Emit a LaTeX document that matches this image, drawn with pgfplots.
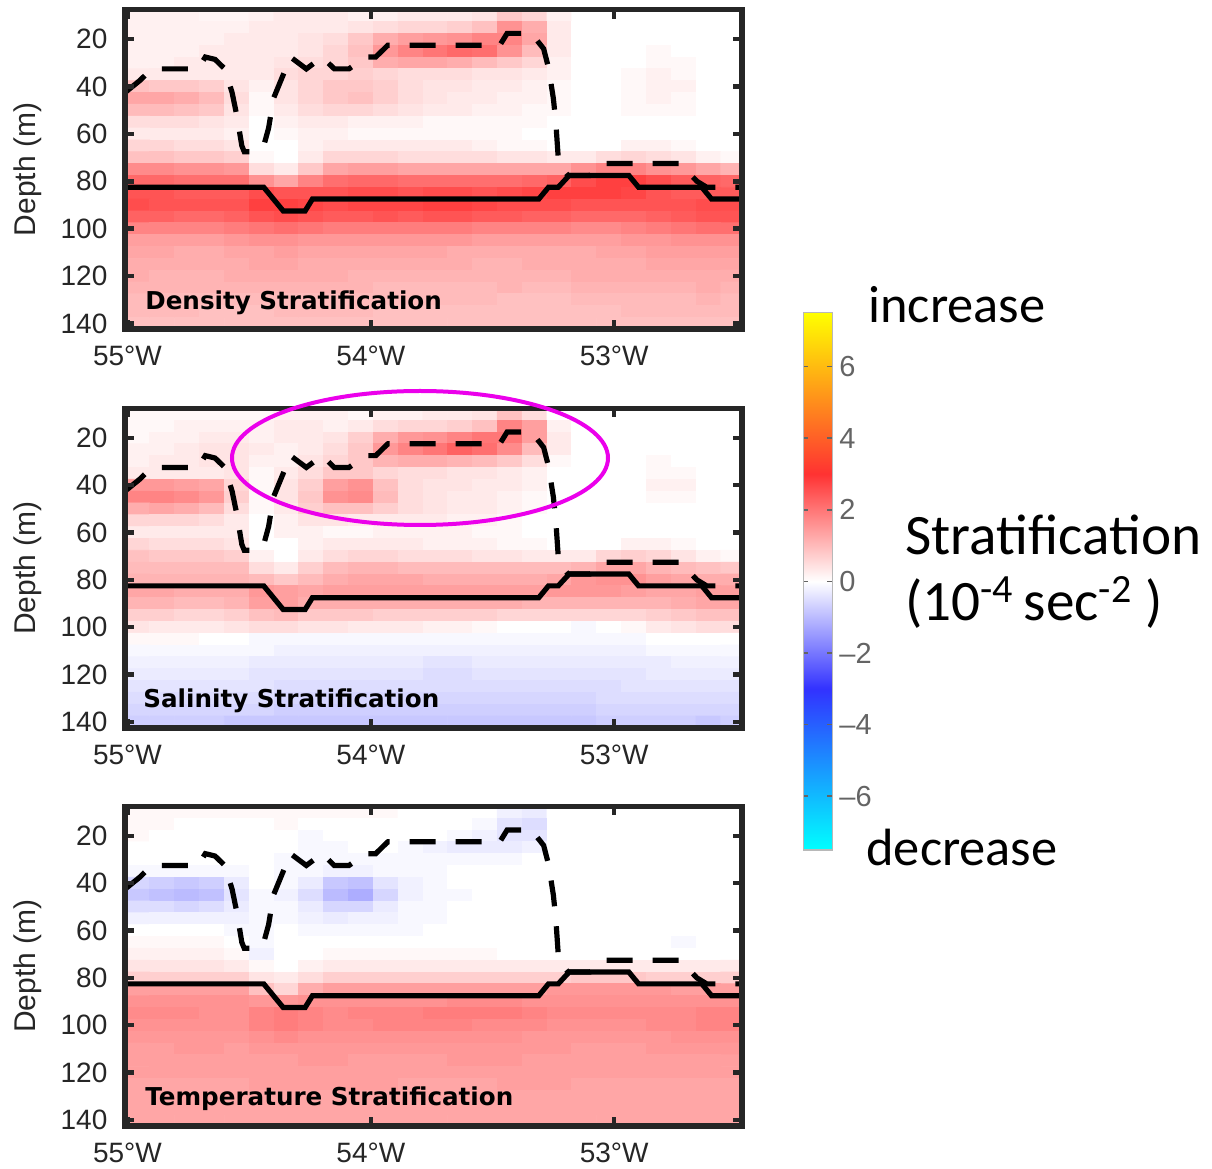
\documentclass[border=0pt]{standalone}
\usepackage{pgfplots}
\pgfplotsset{compat=1.18}
\usepackage{pgfplotstable}
\usepackage{fontspec}
\setmainfont{Liberation Sans}
\newfontfamily\calibri{Carlito}
\newfontfamily\dejavu{DejaVu Sans}
\definecolor{axgray}{RGB}{38,38,38}
\definecolor{cbgray}{RGB}{100,100,100}
\definecolor{ellip}{RGB}{235,0,235}
\pgfplotsset{
  colormap={strat}{rgb255(0cm)=(0,255,255); rgb255(4.5cm)=(50,50,255); rgb255(7.5cm)=(255,255,255); rgb255(10.5cm)=(255,50,50); rgb255(15cm)=(255,255,0)},
  panel/.style={
    scale only axis, width=308.5pt, height=159.8pt,
    xmin=-55.01, xmax=-52.475, ymin=7.5, ymax=142.5, y dir=reverse,
    axis on top,
    xtick={-55,-54,-53}, xticklabels={55°W,54°W,53°W},
    ytick={20,40,60,80,100,120,140},
    tick align=inside, major tick length=4.5pt,
    tick style={line width=2.2pt, axgray},
    axis line style={line width=2.8pt, axgray},
    tick label style={font=\fontsize{14}{16}\selectfont, text=axgray},
    yticklabel style={xshift=-5.3pt},
    xticklabel style={yshift=-4.8pt},
    /pgf/number format/assume math mode=true,
    ylabel={Depth (m)},
    every axis y label/.style={at={(axis description cs:-0.158,0.5)}, rotate=90, anchor=center, font=\fontsize{15}{17}\selectfont, text=axgray},
    colormap name=strat, point meta min=-7.5, point meta max=7.5,
  },
  heat/.style={matrix plot*, mesh/cols=25, point meta=explicit},
}
\pgfplotstableread{
lon dep
-55.01 42.5
-54.95 37.5
-54.90 32.5
-54.71 32.5
-54.68 27.5
-54.64 28.5
-54.60 32.5
-54.57 42.5
-54.55 52.5
-54.53 65
-54.52 67.5
-54.47 67.5
-54.44 65
-54.42 57.5
-54.40 45
-54.37 37.5
-54.33 27.5
-54.265 32.5
-54.20 27.5
-54.15 32.5
-54.09 32.5
-54.02 27.5
-53.98 27.5
-53.93 22.5
-53.47 22.5
-53.44 17.5
-53.34 17.5
-53.29 24
-53.27 32
-53.25 45
-53.24 55
-53.23 70
-53.21 75
-53.19 77.5
-53.10 77.5
-53.05 72.5
-52.73 72.5
-52.66 80
-52.62 82.5
-52.47 82.5
}\mld
\pgfplotstableread{
lon dep
-55.01 82.5
-54.44 82.5
-54.36 92.5
-54.27 92.5
-54.24 87.5
-53.31 87.5
-53.27 82.5
-53.23 82.5
-53.185 77.5
-52.94 77.5
-52.90 82.5
-52.64 82.5
-52.60 87.5
-52.47 87.5
}\solidline
\begin{document}
\begin{tikzpicture}
\path[use as bounding box] (0,0) rectangle (606pt,584.5pt);
% ---------- Panel 1: Density ----------
\begin{axis}[panel, at={(62.5pt,419.85pt)}, anchor=south west]
\addplot[heat] table[x expr={-54.959+0.102*(\coordindex-25*floor(\coordindex/25+0.02))}, y expr={10+5*floor(\coordindex/25+0.02)}, meta=c, row sep=\\] {c\\
0.2\\0.2\\0.2\\0.15\\0.15\\0.2\\0.3\\0.3\\0.3\\0.2\\0.2\\0.3\\0.3\\0.3\\0.4\\0.8\\0.6\\0.2\\0\\0\\0\\0\\0\\0\\0\\
0.2\\0.2\\0.2\\0.2\\0.2\\0.3\\0.3\\0.3\\0.3\\0.4\\0.5\\0.6\\0.6\\0.7\\0.9\\1.6\\1.2\\0.3\\0\\0\\0\\0\\0\\0\\0\\
0.2\\0.2\\0.2\\0.2\\0.3\\0.3\\0.3\\0.4\\0.5\\0.8\\1.2\\1.4\\1.5\\1.6\\1.8\\1.8\\1.3\\0.3\\0\\0\\0\\0\\0\\0\\0\\
0.2\\0.2\\0.2\\0.3\\0.3\\0.3\\0.3\\0.4\\0.6\\0.9\\1.5\\1.8\\2.0\\2.2\\2.1\\1.6\\1.0\\0.3\\0\\0\\0\\0.1\\0\\0\\0\\
0.2\\0.2\\0.3\\0.3\\0.3\\0.3\\0.4\\0.5\\0.6\\0.8\\1.2\\1.3\\1.3\\1.2\\1.0\\0.8\\0.6\\0.2\\0\\0\\0\\0.1\\0.1\\0\\0\\
0.3\\0.3\\0.3\\0.3\\0.3\\0.3\\0.5\\0.6\\0.6\\0.7\\0.6\\0.5\\0.5\\0.5\\0.4\\0.4\\0.3\\0.2\\0\\0\\0.1\\0.2\\0.1\\0\\0\\
0.9\\0.8\\0.8\\0.7\\0.4\\0.2\\0.4\\0.6\\0.8\\0.8\\0.7\\0.5\\0.4\\0.4\\0.3\\0.3\\0.2\\0.1\\0\\0\\0.1\\0.2\\0.2\\0\\0\\
1.3\\1.3\\1.2\\1.0\\0.5\\0.1\\0.4\\0.6\\0.8\\0.9\\0.7\\0.5\\0.4\\0.3\\0.3\\0.2\\0.2\\0.1\\0\\0\\0.1\\0.2\\0.1\\0\\0\\
1.0\\1.0\\0.9\\0.8\\0.4\\0.1\\0.3\\0.5\\0.6\\0.6\\0.5\\0.4\\0.3\\0.3\\0.2\\0.2\\0.1\\0.1\\0\\0\\0.1\\0.1\\0.1\\0\\0\\
0.5\\0.5\\0.5\\0.4\\0.3\\0\\0.2\\0.3\\0.3\\0.2\\0.2\\0.2\\0.1\\0.1\\0.1\\0.1\\0.1\\0\\0\\0\\0\\0\\0\\0\\0\\
0.3\\0.3\\0.3\\0.3\\0.2\\0\\0.1\\0.2\\0.2\\0.1\\0.1\\0.1\\0.1\\0.1\\0.1\\0.1\\0\\0\\0\\0\\0\\0\\0\\0\\0\\
0.6\\0.6\\0.5\\0.5\\0.4\\0\\0\\0.2\\0.3\\0.3\\0.3\\0.3\\0.3\\0.3\\0.2\\0.1\\0.1\\0\\0\\0\\0.2\\0.2\\0.1\\0\\0\\
0.9\\0.9\\0.8\\0.8\\0.7\\0.1\\0\\0.3\\0.6\\0.6\\0.6\\0.5\\0.5\\0.5\\0.5\\0.4\\0.4\\0.3\\0.3\\0.5\\0.6\\0.5\\0.4\\0.2\\0.1\\
1.7\\1.7\\1.6\\1.6\\1.5\\0.5\\0.3\\0.8\\1.3\\1.4\\1.4\\1.3\\1.3\\1.3\\1.3\\1.3\\1.3\\1.3\\1.6\\1.8\\1.8\\1.6\\1.5\\1.3\\1.1\\
2.2\\2.2\\2.1\\2.1\\2.1\\1.6\\1.3\\1.8\\2.1\\2.2\\2.2\\2.1\\2.1\\2.1\\2.1\\2.1\\2.2\\2.3\\2.6\\2.8\\2.8\\2.6\\2.4\\2.3\\2.2\\
2.5\\2.5\\2.4\\2.4\\2.4\\2.6\\2.5\\2.5\\2.5\\2.6\\2.6\\2.5\\2.6\\2.6\\2.5\\2.6\\2.7\\2.8\\2.8\\2.8\\2.7\\2.5\\2.4\\2.4\\2.4\\
2.6\\2.5\\2.5\\2.5\\2.5\\2.8\\2.8\\2.7\\2.6\\2.7\\2.7\\2.7\\2.8\\2.8\\2.7\\2.6\\2.6\\2.6\\2.5\\2.5\\2.5\\2.5\\2.5\\2.6\\2.6\\
2.3\\2.3\\2.2\\2.2\\2.3\\2.5\\2.6\\2.5\\2.4\\2.4\\2.5\\2.4\\2.5\\2.5\\2.4\\2.4\\2.3\\2.3\\2.2\\2.2\\2.2\\2.3\\2.4\\2.5\\2.5\\
1.8\\1.8\\1.8\\1.8\\1.9\\2.0\\2.1\\2.0\\1.9\\1.9\\1.9\\1.9\\1.9\\1.9\\1.8\\1.8\\1.8\\1.8\\1.7\\1.7\\1.8\\1.9\\2.0\\2.1\\2.1\\
1.4\\1.4\\1.4\\1.4\\1.5\\1.6\\1.6\\1.5\\1.5\\1.5\\1.5\\1.5\\1.5\\1.5\\1.4\\1.4\\1.4\\1.4\\1.4\\1.4\\1.5\\1.5\\1.6\\1.6\\1.6\\
1.3\\1.3\\1.2\\1.2\\1.3\\1.3\\1.4\\1.3\\1.3\\1.3\\1.3\\1.3\\1.3\\1.2\\1.2\\1.2\\1.2\\1.2\\1.2\\1.3\\1.3\\1.4\\1.4\\1.4\\1.4\\
1.2\\1.2\\1.2\\1.2\\1.2\\1.3\\1.3\\1.2\\1.2\\1.2\\1.2\\1.2\\1.2\\1.2\\1.1\\1.1\\1.2\\1.2\\1.2\\1.2\\1.2\\1.3\\1.3\\1.3\\1.3\\
1.2\\1.1\\1.1\\1.1\\1.2\\1.2\\1.2\\1.2\\1.2\\1.1\\1.1\\1.1\\1.1\\1.1\\1.1\\1.1\\1.1\\1.1\\1.2\\1.2\\1.2\\1.2\\1.2\\1.2\\1.2\\
1.1\\1.1\\1.1\\1.1\\1.1\\1.1\\1.1\\1.1\\1.1\\1.1\\1.0\\1.0\\1.0\\1.0\\1.0\\1.1\\1.0\\1.0\\1.1\\1.1\\1.1\\1.1\\1.1\\1.2\\1.1\\
1.0\\1.0\\1.0\\1.0\\1.0\\1.0\\1.0\\1.0\\1.0\\1.0\\1.0\\1.0\\1.0\\1.0\\1.0\\0.9\\0.9\\0.9\\1.0\\1.0\\1.0\\1.0\\1.0\\1.1\\1.0\\
1.0\\1.0\\1.0\\0.9\\0.9\\0.9\\1.0\\1.0\\1.0\\1.0\\0.9\\0.9\\0.9\\0.9\\0.9\\0.9\\0.9\\0.9\\0.9\\0.9\\1.0\\1.0\\1.0\\1.0\\1.0\\
0.9\\0.9\\0.9\\0.9\\0.9\\0.9\\0.9\\0.9\\0.9\\0.9\\0.9\\0.9\\0.9\\0.9\\0.9\\0.9\\0.9\\0.9\\0.9\\0.9\\0.9\\0.9\\0.9\\0.9\\0.9\\
};
\addplot[black, line width=2.6pt, dash pattern=on 13pt off 10pt] table[x=lon, y=dep] {\mld};
\addplot[black, line width=2.6pt] table[x=lon, y=dep] {\solidline};
\end{axis}
% ---------- Panel 2: Salinity ----------
\begin{axis}[panel, at={(62.5pt,220.55pt)}, anchor=south west,
  colorbar,
  colorbar style={
    at={(1.0994,1.2985)}, anchor=north west,
    scale only axis, width=14.5pt, height=268.5pt, y dir=normal,
    ytick={-6,-4,-2,0,2,4,6}, yticklabels={–6,–4,–2,0,2,4,6},
    tick align=inside, major tick length=2.5pt,
    ytick style={line width=0.8pt, cbgray},
    axis line style={line width=0.6pt, black!28},
    yticklabel pos=right,
    yticklabel style={font=\fontsize{14.5}{16}\selectfont, text=cbgray, xshift=0pt},
  }]
\addplot[heat] table[x expr={-54.959+0.102*(\coordindex-25*floor(\coordindex/25+0.02))}, y expr={10+5*floor(\coordindex/25+0.02)}, meta=c, row sep=\\] {c\\
0.1\\0.1\\0.1\\0.1\\0.1\\0.1\\0.2\\0.2\\0.2\\0.1\\0.2\\0.2\\0.3\\0.3\\0.4\\0.9\\0.5\\0\\0\\0\\0\\0\\0\\0\\0\\
0.1\\0.1\\0.2\\0.2\\0.2\\0.2\\0.3\\0.3\\0.2\\0.3\\0.5\\0.6\\0.6\\0.7\\0.9\\1.8\\1.4\\0.2\\0\\0\\0\\0\\0\\0\\0\\
0.1\\0.2\\0.2\\0.3\\0.3\\0.2\\0.3\\0.3\\0.4\\0.7\\1.2\\1.5\\1.6\\1.8\\2.0\\2.0\\1.4\\0.3\\0\\0\\0\\0\\0\\0\\0\\
0.2\\0.2\\0.3\\0.4\\0.4\\0.3\\0.2\\0.3\\0.5\\0.8\\1.5\\1.8\\2.0\\2.3\\2.1\\1.7\\1.0\\0.3\\0\\0\\0\\0\\0\\0\\0\\
0.2\\0.3\\0.3\\0.4\\0.4\\0.2\\0.2\\0.4\\0.6\\0.8\\1.1\\1.2\\1.2\\1.1\\1.0\\0.8\\0.5\\0.1\\0\\0\\0\\0.1\\0\\0\\0\\
0.3\\0.3\\0.3\\0.3\\0.4\\0.1\\0.3\\0.5\\0.8\\0.8\\0.6\\0.5\\0.5\\0.4\\0.4\\0.3\\0.2\\0\\0\\0\\0\\0.1\\0.1\\0\\0\\
1.5\\1.5\\1.4\\1.3\\0.6\\0.1\\0.4\\0.7\\1.4\\1.6\\0.9\\0.5\\0.4\\0.4\\0.3\\0.3\\0.2\\0\\0\\0\\0\\0.2\\0.2\\0\\0\\
1.8\\1.8\\1.7\\1.5\\0.7\\0.1\\0.4\\0.8\\1.6\\1.7\\1.0\\0.5\\0.4\\0.3\\0.3\\0.2\\0.1\\0\\0\\0\\0\\0.1\\0.1\\0\\0\\
1.2\\1.3\\1.2\\1.0\\0.5\\0.1\\0.3\\0.7\\0.9\\0.9\\0.7\\0.5\\0.4\\0.3\\0.3\\0.2\\0.1\\0\\0\\0\\0\\0\\0\\0\\0\\
0.6\\0.6\\0.6\\0.5\\0.3\\0\\0.2\\0.4\\0.4\\0.3\\0.3\\0.3\\0.3\\0.2\\0.2\\0.1\\0\\0\\0\\0\\0\\0\\0\\0\\0\\
0.3\\0.3\\0.3\\0.3\\0.3\\0\\0.2\\0.2\\0.1\\0.1\\0.2\\0.2\\0.2\\0.2\\0.1\\0.1\\0\\0\\0\\0\\0\\0\\0\\0\\0\\
0.6\\0.5\\0.5\\0.5\\0.4\\0\\0\\0.2\\0.3\\0.3\\0.3\\0.3\\0.2\\0.2\\0.2\\0.1\\0.1\\0\\0\\0\\0.2\\0.2\\0.1\\0\\0\\
0.9\\0.8\\0.8\\0.8\\0.7\\0.2\\0\\0.3\\0.5\\0.6\\0.6\\0.5\\0.5\\0.5\\0.4\\0.4\\0.3\\0.3\\0.3\\0.6\\0.7\\0.6\\0.4\\0.2\\0.1\\
1.0\\1.0\\1.0\\1.0\\1.0\\0.5\\0.3\\0.7\\1.0\\1.1\\1.1\\1.0\\1.0\\1.0\\1.0\\1.0\\1.0\\1.0\\1.1\\1.3\\1.3\\1.1\\1.0\\0.9\\0.8\\
1.1\\1.1\\1.1\\1.1\\1.1\\1.0\\0.8\\1.0\\1.2\\1.3\\1.3\\1.3\\1.2\\1.2\\1.2\\1.2\\1.2\\1.3\\1.5\\1.6\\1.6\\1.4\\1.3\\1.2\\1.2\\
1.3\\1.3\\1.2\\1.2\\1.2\\1.5\\1.4\\1.3\\1.4\\1.4\\1.4\\1.4\\1.4\\1.4\\1.4\\1.4\\1.4\\1.5\\1.5\\1.5\\1.4\\1.3\\1.3\\1.4\\1.4\\
1.1\\1.1\\1.0\\1.0\\1.1\\1.4\\1.4\\1.2\\1.2\\1.2\\1.2\\1.2\\1.2\\1.2\\1.2\\1.2\\1.1\\1.1\\1.1\\1.1\\1.1\\1.1\\1.2\\1.3\\1.3\\
0.7\\0.7\\0.6\\0.6\\0.7\\0.9\\1.0\\0.8\\0.8\\0.8\\0.7\\0.7\\0.7\\0.7\\0.7\\0.6\\0.6\\0.6\\0.6\\0.6\\0.6\\0.7\\0.8\\0.9\\0.9\\
0.4\\0.3\\0.3\\0.3\\0.4\\0.5\\0.5\\0.4\\0.4\\0.3\\0.3\\0.3\\0.2\\0.2\\0.1\\0\\0\\0\\-0.1\\0\\0.1\\0.3\\0.4\\0.5\\0.5\\
0.1\\0.1\\0.1\\0\\0\\-0.1\\-0.1\\-0.1\\-0.1\\-0.1\\-0.1\\-0.1\\-0.1\\-0.1\\-0.1\\-0.1\\-0.1\\-0.1\\-0.1\\-0.1\\-0.1\\0\\0\\0\\0\\
-0.1\\-0.1\\-0.1\\-0.1\\-0.1\\-0.1\\-0.2\\-0.2\\-0.2\\-0.2\\-0.2\\-0.2\\-0.2\\-0.2\\-0.2\\-0.2\\-0.2\\-0.2\\-0.2\\-0.2\\-0.2\\-0.1\\-0.1\\-0.1\\-0.1\\
-0.2\\-0.2\\-0.2\\-0.2\\-0.2\\-0.3\\-0.3\\-0.3\\-0.3\\-0.3\\-0.3\\-0.3\\-0.4\\-0.4\\-0.3\\-0.3\\-0.3\\-0.3\\-0.3\\-0.3\\-0.3\\-0.3\\-0.2\\-0.2\\-0.2\\
-0.3\\-0.3\\-0.3\\-0.3\\-0.3\\-0.4\\-0.4\\-0.4\\-0.4\\-0.4\\-0.4\\-0.4\\-0.5\\-0.5\\-0.4\\-0.4\\-0.4\\-0.4\\-0.4\\-0.4\\-0.4\\-0.3\\-0.3\\-0.3\\-0.3\\
-0.4\\-0.4\\-0.4\\-0.4\\-0.4\\-0.4\\-0.5\\-0.5\\-0.5\\-0.5\\-0.5\\-0.5\\-0.5\\-0.5\\-0.5\\-0.5\\-0.5\\-0.5\\-0.5\\-0.5\\-0.4\\-0.4\\-0.4\\-0.4\\-0.4\\
-0.5\\-0.5\\-0.5\\-0.5\\-0.5\\-0.5\\-0.6\\-0.6\\-0.6\\-0.6\\-0.6\\-0.6\\-0.6\\-0.6\\-0.6\\-0.6\\-0.6\\-0.6\\-0.6\\-0.5\\-0.5\\-0.5\\-0.5\\-0.5\\-0.5\\
-0.6\\-0.6\\-0.6\\-0.6\\-0.6\\-0.6\\-0.7\\-0.7\\-0.7\\-0.7\\-0.7\\-0.7\\-0.7\\-0.7\\-0.7\\-0.7\\-0.7\\-0.7\\-0.7\\-0.6\\-0.6\\-0.6\\-0.6\\-0.6\\-0.6\\
-0.7\\-0.7\\-0.7\\-0.7\\-0.8\\-0.8\\-0.8\\-0.8\\-0.8\\-0.8\\-0.8\\-0.8\\-0.8\\-0.8\\-0.8\\-0.8\\-0.8\\-0.8\\-0.8\\-0.7\\-0.7\\-0.7\\-0.7\\-0.8\\-0.7\\
};
\addplot[black, line width=2.6pt, dash pattern=on 13pt off 10pt] table[x=lon, y=dep] {\mld};
\addplot[black, line width=2.6pt] table[x=lon, y=dep] {\solidline};
\end{axis}
% ---------- Panel 3: Temperature ----------
\begin{axis}[panel, at={(62.5pt,21.55pt)}, anchor=south west]
\addplot[heat] table[x expr={-54.959+0.102*(\coordindex-25*floor(\coordindex/25+0.02))}, y expr={10+5*floor(\coordindex/25+0.02)}, meta=c, row sep=\\] {c\\
0.1\\0.1\\0.1\\0.1\\0.1\\0.1\\0.1\\0.1\\0.1\\0.1\\0.1\\0\\0\\0\\0\\-0.2\\-0.3\\0\\0\\0\\0\\0\\0\\0\\0\\
0.1\\0.1\\0\\0\\0\\0\\0.1\\0\\0\\0\\0\\0\\0\\0\\-0.1\\-0.4\\-0.5\\0\\0\\0\\0\\0\\0\\0\\0\\
0.1\\0\\0\\0\\0\\0\\0\\-0.1\\0\\0\\0\\0\\0\\-0.1\\-0.2\\-0.4\\-0.4\\0\\0\\0\\0\\0\\0\\0\\0\\
0\\0\\0\\0\\0\\0\\0\\-0.1\\-0.1\\0\\0\\-0.1\\-0.2\\-0.3\\-0.3\\-0.3\\-0.2\\0\\0\\0\\0\\0\\0\\0\\0\\
0\\0\\0\\0\\0\\0\\-0.1\\-0.1\\-0.1\\-0.1\\-0.1\\-0.1\\-0.1\\-0.1\\-0.1\\-0.1\\0\\0\\0\\0\\0\\0\\0\\0\\0\\
-0.1\\-0.1\\-0.1\\-0.1\\-0.1\\0\\-0.1\\-0.1\\-0.2\\-0.2\\-0.1\\-0.1\\-0.1\\0\\0\\0\\0\\0\\0\\0\\0\\0\\0\\0\\0\\
-0.6\\-0.7\\-0.8\\-0.7\\-0.3\\0\\-0.1\\-0.3\\-0.8\\-0.9\\-0.4\\-0.2\\-0.1\\0\\0\\0\\0\\0\\0\\0\\0\\0\\0\\0\\0\\
-0.8\\-0.9\\-1.0\\-0.9\\-0.4\\-0.1\\-0.2\\-0.5\\-1.0\\-1.2\\-0.6\\-0.2\\-0.1\\-0.1\\0\\0\\0\\0\\0\\0\\0\\0\\0\\0\\0\\
-0.5\\-0.5\\-0.6\\-0.5\\-0.3\\-0.1\\-0.1\\-0.3\\-0.6\\-0.6\\-0.3\\-0.1\\-0.1\\0\\0\\0\\0\\0\\0\\0\\0\\0\\0\\0\\0\\
-0.2\\-0.2\\-0.2\\-0.2\\-0.2\\-0.1\\-0.1\\-0.2\\-0.3\\-0.2\\-0.2\\-0.1\\-0.1\\0\\0\\0\\0\\0\\0\\0\\0\\0\\0\\0\\0\\
0\\0\\0\\0\\-0.1\\-0.1\\0\\-0.1\\-0.1\\-0.1\\-0.1\\-0.1\\0\\0\\0\\0\\0\\0\\0\\0\\0\\0\\0\\0\\0\\
0.1\\0.1\\0.1\\0.1\\0\\-0.1\\0\\0\\0\\0\\0\\0\\0\\0\\0\\0\\0\\0\\0\\0\\0\\0\\-0.1\\0\\0\\
0.2\\0.2\\0.2\\0.2\\0.1\\-0.2\\0\\0\\0.1\\0.1\\0.1\\0.1\\0.1\\0.1\\0.1\\0\\0\\0\\0\\0\\0\\0\\0\\0\\0\\
0.4\\0.4\\0.4\\0.4\\0.3\\0.1\\0\\0.2\\0.3\\0.3\\0.3\\0.3\\0.3\\0.3\\0.3\\0.3\\0.3\\0.3\\0.3\\0.3\\0.3\\0.3\\0.3\\0.3\\0.3\\
0.7\\0.7\\0.7\\0.7\\0.7\\0.4\\0.3\\0.5\\0.7\\0.7\\0.7\\0.7\\0.7\\0.7\\0.7\\0.7\\0.7\\0.7\\0.8\\0.8\\0.8\\0.7\\0.7\\0.7\\0.7\\
1.4\\1.4\\1.4\\1.4\\1.4\\0.9\\0.6\\1.2\\1.4\\1.4\\1.4\\1.4\\1.4\\1.4\\1.4\\1.4\\1.4\\1.5\\1.5\\1.5\\1.5\\1.5\\1.4\\1.4\\1.4\\
1.6\\1.6\\1.6\\1.6\\1.6\\1.5\\1.5\\1.6\\1.6\\1.6\\1.6\\1.6\\1.6\\1.7\\1.7\\1.7\\1.6\\1.6\\1.6\\1.6\\1.6\\1.6\\1.6\\1.6\\1.6\\
1.7\\1.7\\1.7\\1.6\\1.6\\1.8\\1.9\\1.8\\1.7\\1.8\\1.8\\1.8\\1.9\\1.9\\1.9\\1.9\\1.8\\1.7\\1.7\\1.7\\1.7\\1.7\\1.7\\1.8\\1.8\\
1.6\\1.6\\1.6\\1.6\\1.6\\1.8\\1.9\\1.8\\1.7\\1.7\\1.8\\1.8\\1.8\\1.8\\1.7\\1.7\\1.7\\1.6\\1.6\\1.6\\1.6\\1.7\\1.7\\1.8\\1.8\\
1.5\\1.5\\1.5\\1.5\\1.5\\1.6\\1.7\\1.6\\1.6\\1.6\\1.6\\1.6\\1.6\\1.6\\1.6\\1.6\\1.5\\1.5\\1.5\\1.5\\1.5\\1.5\\1.6\\1.6\\1.6\\
1.4\\1.4\\1.5\\1.5\\1.4\\1.5\\1.5\\1.5\\1.5\\1.5\\1.5\\1.5\\1.5\\1.5\\1.5\\1.5\\1.5\\1.5\\1.4\\1.4\\1.4\\1.5\\1.5\\1.5\\1.5\\
1.4\\1.4\\1.4\\1.4\\1.4\\1.4\\1.4\\1.5\\1.5\\1.4\\1.4\\1.4\\1.4\\1.5\\1.5\\1.5\\1.4\\1.4\\1.4\\1.4\\1.4\\1.4\\1.4\\1.4\\1.4\\
1.4\\1.4\\1.4\\1.4\\1.4\\1.4\\1.4\\1.4\\1.4\\1.4\\1.4\\1.4\\1.4\\1.4\\1.4\\1.4\\1.4\\1.4\\1.4\\1.4\\1.4\\1.4\\1.4\\1.4\\1.4\\
1.3\\1.3\\1.3\\1.3\\1.3\\1.4\\1.4\\1.4\\1.4\\1.4\\1.4\\1.3\\1.3\\1.3\\1.3\\1.4\\1.4\\1.4\\1.3\\1.3\\1.3\\1.3\\1.3\\1.3\\1.3\\
1.3\\1.3\\1.3\\1.3\\1.3\\1.3\\1.3\\1.3\\1.3\\1.3\\1.3\\1.3\\1.3\\1.3\\1.3\\1.3\\1.3\\1.3\\1.3\\1.3\\1.3\\1.3\\1.3\\1.3\\1.3\\
1.3\\1.3\\1.3\\1.3\\1.3\\1.3\\1.3\\1.3\\1.3\\1.3\\1.3\\1.3\\1.3\\1.3\\1.3\\1.3\\1.3\\1.3\\1.3\\1.3\\1.3\\1.3\\1.3\\1.3\\1.3\\
1.3\\1.3\\1.3\\1.3\\1.3\\1.3\\1.3\\1.3\\1.3\\1.3\\1.3\\1.3\\1.3\\1.3\\1.3\\1.3\\1.3\\1.3\\1.3\\1.3\\1.3\\1.3\\1.3\\1.3\\1.3\\
};
\addplot[black, line width=2.6pt, dash pattern=on 13pt off 10pt] table[x=lon, y=dep] {\mld};
\addplot[black, line width=2.6pt] table[x=lon, y=dep] {\solidline};
\end{axis}
% ---------- annotations ----------
\node[anchor=base west, inner sep=0pt, font=\dejavu\bfseries\fontsize{12.3}{14}\selectfont] at (72.5pt,429.5pt) {Density Stratification};
\node[anchor=base west, inner sep=0pt, font=\dejavu\bfseries\fontsize{12.3}{14}\selectfont] at (71.5pt,230.5pt) {Salinity Stratification};
\node[anchor=base west, inner sep=0pt, font=\dejavu\bfseries\fontsize{12.3}{14}\selectfont] at (72.5pt,31.5pt) {Temperature Stratification};
\draw[ellip, line width=2pt] (210pt,355.5pt) ellipse [x radius=94pt, y radius=33.5pt];
\node[anchor=base west, inner sep=0pt, font=\calibri\fontsize{26.2}{30}\selectfont] at (434pt,423pt) {increase};
\node[anchor=base west, inner sep=0pt, font=\calibri\fontsize{26.2}{30}\selectfont] at (433pt,151.5pt) {decrease};
\node[anchor=base west, inner sep=0pt, font=\calibri\fontsize{28.6}{32}\selectfont] at (452.5pt,307pt) {Stratification};
\node[anchor=base west, inner sep=0pt, font=\calibri\fontsize{28.6}{32}\selectfont] at (452.5pt,274pt) {(10\textsuperscript{-4}\,sec\textsuperscript{-2} )};
\end{tikzpicture}
\end{document}
